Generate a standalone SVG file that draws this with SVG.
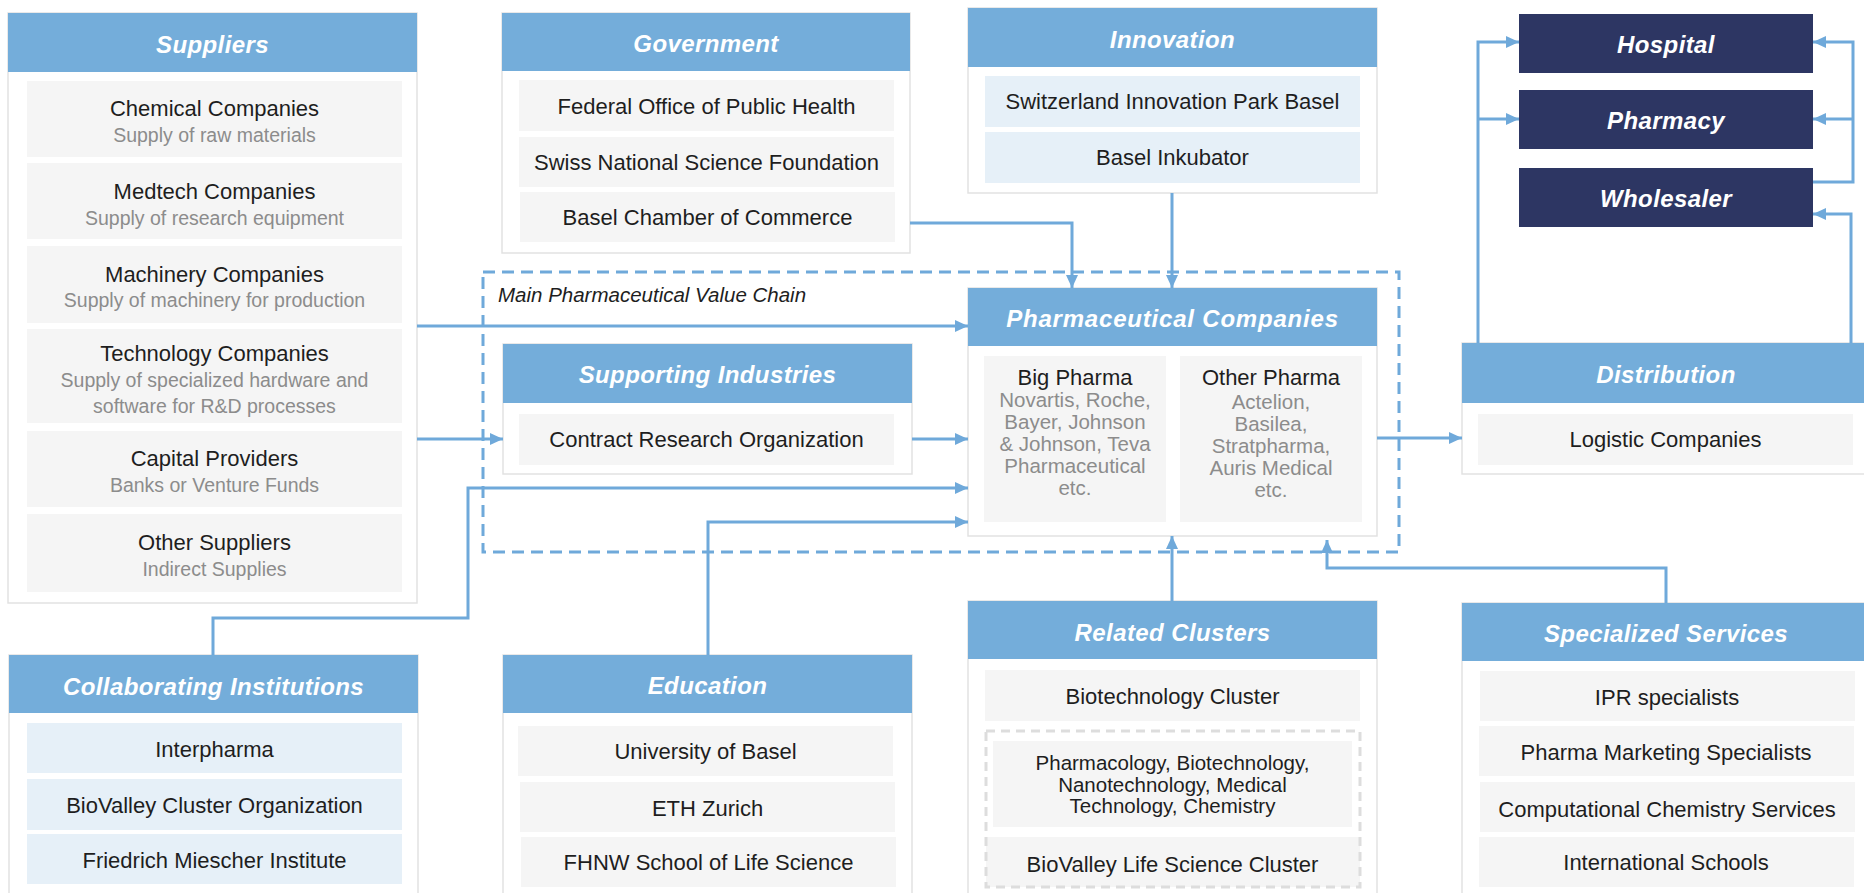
<svg xmlns="http://www.w3.org/2000/svg" width="1864" height="893" viewBox="0 0 1864 893">
<defs>
<style>
.box{fill:#fff;stroke:#E2E2E2;stroke-width:1.5}
.hdr{fill:#74ADDA}
.it{fill:#F5F5F5}
.itb{fill:#E6F0F8}
.dk{fill:#2D3663}
.ht{font-family:"Liberation Sans",Arial,sans-serif;font-size:24px;font-style:italic;font-weight:bold;fill:#fff;text-anchor:middle;letter-spacing:0.4px}
.t{font-family:"Liberation Sans",Arial,sans-serif;font-size:22px;fill:#1E1E1E;text-anchor:middle}
.ts{font-family:"Liberation Sans",Arial,sans-serif;font-size:20.5px;fill:#1E1E1E;text-anchor:middle}
.s{font-family:"Liberation Sans",Arial,sans-serif;font-size:19.5px;fill:#8C8C8C;text-anchor:middle}
.sp{font-family:"Liberation Sans",Arial,sans-serif;font-size:20.5px;fill:#8C8C8C;text-anchor:middle}
.lbl{font-family:"Liberation Sans",Arial,sans-serif;font-size:20.5px;font-style:italic;fill:#1E1E1E}
.c{fill:none;stroke:#6FA9DA;stroke-width:3}
.chain{fill:none;stroke:#6FA9DA;stroke-width:3;stroke-dasharray:12 7}
.gdash{fill:none;stroke:#DDDDDD;stroke-width:3;stroke-dasharray:9 6}
</style>
<marker id="ah" markerUnits="userSpaceOnUse" markerWidth="13" markerHeight="12" refX="13" refY="6" orient="auto">
<path d="M0,0 L13,6 L0,12 z" fill="#6FA9DA"/>
</marker>
</defs>
<rect width="1864" height="893" fill="#fff"/>

<g id="main-chain">
<rect class="chain" x="483" y="272" width="916" height="280"/>
<text class="lbl" x="498" y="302">Main Pharmaceutical Value Chain</text>
</g>

<g id="suppliers">
<rect class="box" x="8" y="13" width="409" height="590"/>
<rect class="hdr" x="8" y="13" width="409" height="59"/>
<text class="ht" x="212.5" y="53">Suppliers</text>
<rect class="it" x="27" y="81" width="375" height="76"/>
<text class="t" x="214.5" y="116">Chemical Companies</text>
<text class="s" x="214.5" y="142">Supply of raw materials</text>
<rect class="it" x="27" y="163" width="375" height="76"/>
<text class="t" x="214.5" y="199">Medtech Companies</text>
<text class="s" x="214.5" y="225">Supply of research equipment</text>
<rect class="it" x="27" y="246" width="375" height="77"/>
<text class="t" x="214.5" y="282">Machinery Companies</text>
<text class="s" x="214.5" y="307">Supply of machinery for production</text>
<rect class="it" x="27" y="329" width="375" height="94"/>
<text class="t" x="214.5" y="361">Technology Companies</text>
<text class="s" x="214.5" y="387">Supply of specialized hardware and</text>
<text class="s" x="214.5" y="413">software for R&amp;D processes</text>
<rect class="it" x="27" y="431" width="375" height="76"/>
<text class="t" x="214.5" y="466">Capital Providers</text>
<text class="s" x="214.5" y="492">Banks or Venture Funds</text>
<rect class="it" x="27" y="514" width="375" height="78"/>
<text class="t" x="214.5" y="550">Other Suppliers</text>
<text class="s" x="214.5" y="576">Indirect Supplies</text>
</g>

<g id="government">
<rect class="box" x="502" y="13" width="408" height="240"/>
<rect class="hdr" x="502" y="13" width="408" height="58"/>
<text class="ht" x="706" y="52">Government</text>
<rect class="it" x="519" y="80" width="375" height="51"/>
<text class="t" x="706.5" y="114">Federal Office of Public Health</text>
<rect class="it" x="519" y="137" width="375" height="50"/>
<text class="t" x="706.5" y="170">Swiss National Science Foundation</text>
<rect class="it" x="520" y="192" width="375" height="50"/>
<text class="t" x="707.5" y="225">Basel Chamber of Commerce</text>
</g>

<g id="innovation">
<rect class="box" x="968" y="8" width="409" height="185"/>
<rect class="hdr" x="968" y="8" width="409" height="59"/>
<text class="ht" x="1172.5" y="48">Innovation</text>
<rect class="itb" x="985" y="76" width="375" height="51"/>
<text class="t" x="1172.5" y="109">Switzerland Innovation Park Basel</text>
<rect class="itb" x="985" y="132" width="375" height="51"/>
<text class="t" x="1172.5" y="165">Basel Inkubator</text>
</g>

<g id="hospital">
<rect class="dk" x="1519" y="14" width="294" height="59"/>
<text class="ht" x="1666" y="53">Hospital</text>
</g>
<g id="pharmacy">
<rect class="dk" x="1519" y="90" width="294" height="59"/>
<text class="ht" x="1666" y="129">Pharmacy</text>
</g>
<g id="wholesaler">
<rect class="dk" x="1519" y="168" width="294" height="59"/>
<text class="ht" x="1666" y="207">Wholesaler</text>
</g>

<g id="supporting-industries">
<rect class="box" x="503" y="344" width="409" height="130"/>
<rect class="hdr" x="503" y="344" width="409" height="59"/>
<text class="ht" x="707.5" y="383">Supporting Industries</text>
<rect class="it" x="519" y="414" width="375" height="51"/>
<text class="t" x="706.5" y="447">Contract Research Organization</text>
</g>

<g id="pharmaceutical-companies">
<rect class="box" x="968" y="288" width="409" height="248"/>
<rect class="hdr" x="968" y="288" width="409" height="58"/>
<text class="ht" x="1172.5" y="327" style="letter-spacing:0.8px">Pharmaceutical Companies</text>
<rect class="it" x="984" y="356" width="182" height="166"/>
<text class="t" x="1075" y="385">Big Pharma</text>
<text class="sp" x="1075" y="407">Novartis, Roche,</text>
<text class="sp" x="1075" y="429">Bayer, Johnson</text>
<text class="sp" x="1075" y="451">&amp; Johnson, Teva</text>
<text class="sp" x="1075" y="473">Pharmaceutical</text>
<text class="sp" x="1075" y="495">etc.</text>
<rect class="it" x="1180" y="356" width="182" height="166"/>
<text class="t" x="1271" y="385">Other Pharma</text>
<text class="sp" x="1271" y="409">Actelion,</text>
<text class="sp" x="1271" y="431">Basilea,</text>
<text class="sp" x="1271" y="453">Stratpharma,</text>
<text class="sp" x="1271" y="475">Auris Medical</text>
<text class="sp" x="1271" y="497">etc.</text>
</g>

<g id="distribution">
<rect class="box" x="1462" y="343" width="409" height="131"/>
<rect class="hdr" x="1462" y="343" width="409" height="60"/>
<text class="ht" x="1666" y="383">Distribution</text>
<rect class="it" x="1478" y="414" width="375" height="51"/>
<text class="t" x="1665.5" y="447">Logistic Companies</text>
</g>

<g id="collaborating-institutions">
<rect class="box" x="9" y="655" width="409" height="250"/>
<rect class="hdr" x="9" y="655" width="409" height="58"/>
<text class="ht" x="213.5" y="695">Collaborating Institutions</text>
<rect class="itb" x="27" y="723" width="375" height="50"/>
<text class="t" x="214.5" y="757">Interpharma</text>
<rect class="itb" x="27" y="779" width="375" height="51"/>
<text class="t" x="214.5" y="813">BioValley Cluster Organization</text>
<rect class="itb" x="27" y="834" width="375" height="50"/>
<text class="t" x="214.5" y="868">Friedrich Miescher Institute</text>
</g>

<g id="education">
<rect class="box" x="503" y="655" width="409" height="250"/>
<rect class="hdr" x="503" y="655" width="409" height="58"/>
<text class="ht" x="707.5" y="694">Education</text>
<rect class="it" x="518" y="726" width="375" height="50"/>
<text class="t" x="705.5" y="759">University of Basel</text>
<rect class="it" x="520" y="782" width="375" height="50"/>
<text class="t" x="707.5" y="816">ETH Zurich</text>
<rect class="it" x="521" y="837" width="375" height="50"/>
<text class="t" x="708.5" y="870">FHNW School of Life Science</text>
</g>

<g id="related-clusters">
<rect class="box" x="968" y="601" width="409" height="310"/>
<rect class="hdr" x="968" y="601" width="409" height="58"/>
<text class="ht" x="1172.5" y="641">Related Clusters</text>
<rect class="it" x="985" y="670" width="375" height="51"/>
<text class="t" x="1172.5" y="704">Biotechnology Cluster</text>
<rect class="it" x="986" y="837" width="374" height="50"/>
<rect class="it" x="993" y="741" width="359" height="86"/>
<rect class="gdash" x="986" y="731" width="374" height="156"/>
<text class="ts" x="1172.5" y="770">Pharmacology, Biotechnology,</text>
<text class="ts" x="1172.5" y="792">Nanotechnology, Medical</text>
<text class="ts" x="1172.5" y="813">Technology, Chemistry</text>
<text class="t" x="1172.5" y="872">BioValley Life Science Cluster</text>
</g>

<g id="specialized-services">
<rect class="box" x="1462" y="603" width="409" height="310"/>
<rect class="hdr" x="1462" y="603" width="409" height="58"/>
<text class="ht" x="1666" y="642">Specialized Services</text>
<rect class="it" x="1480" y="671" width="375" height="50"/>
<text class="t" x="1667" y="705">IPR specialists</text>
<rect class="it" x="1479" y="726" width="375" height="50"/>
<text class="t" x="1666" y="760">Pharma Marketing Specialists</text>
<rect class="it" x="1480" y="782" width="375" height="50"/>
<text class="t" x="1667" y="817">Computational Chemistry Services</text>
<rect class="it" x="1479" y="837" width="375" height="50"/>
<text class="t" x="1666" y="870">International Schools</text>
</g>

<g id="connectors">
<path class="c" d="M417,326 H968" marker-end="url(#ah)"/>
<path class="c" d="M417,439 H503" marker-end="url(#ah)"/>
<path class="c" d="M912,439 H968" marker-end="url(#ah)"/>
<path class="c" d="M213,655 V618 H468 V488 H968" marker-end="url(#ah)"/>
<path class="c" d="M708,655 V522 H968" marker-end="url(#ah)"/>
<path class="c" d="M910,223 H1072 V288" marker-end="url(#ah)"/>
<path class="c" d="M1172,193 V288" marker-end="url(#ah)"/>
<path class="c" d="M1172,601 V536" marker-end="url(#ah)"/>
<path class="c" d="M1666,603 V568 H1327 V540" marker-end="url(#ah)"/>
<path class="c" d="M1377,438 H1462" marker-end="url(#ah)"/>
<path class="c" d="M1478,343 V42 H1519" marker-end="url(#ah)"/>
<path class="c" d="M1478,119 H1519" marker-end="url(#ah)"/>
<path class="c" d="M1851,343 V214 H1813" marker-end="url(#ah)"/>
<path class="c" d="M1813,182 H1853 V42 H1813" marker-end="url(#ah)"/>
<path class="c" d="M1853,119 H1813" marker-end="url(#ah)"/>
</g>
</svg>
